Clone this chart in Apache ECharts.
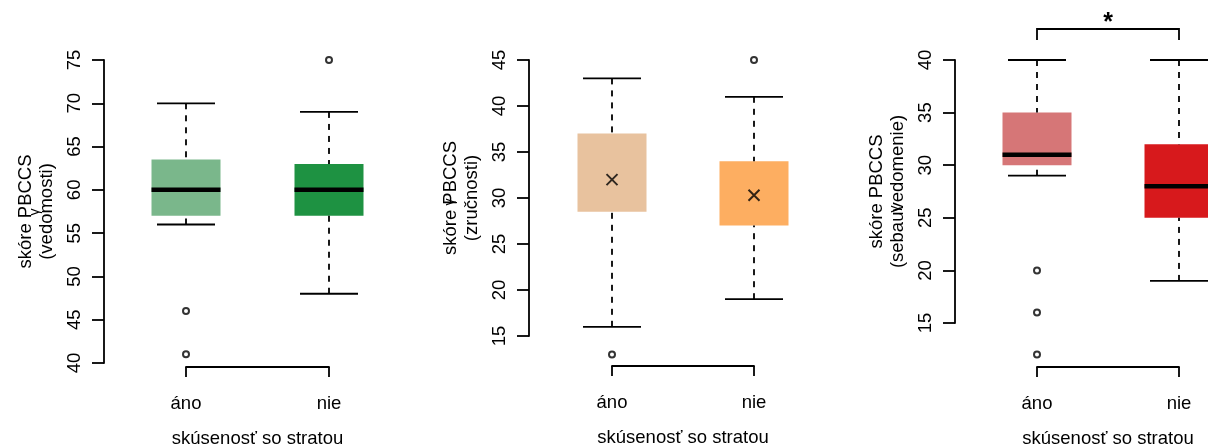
<!DOCTYPE html>
<html>
<head>
<meta charset="utf-8">
<script src="https://cdn.jsdelivr.net/npm/echarts@6/dist/echarts.min.js"></script>
<style>
  html, body { margin: 0; padding: 0; background: #fff; }
  #chart { width: 1208px; height: 445px; }
</style>
</head>
<body>
<div id="chart"></div>
<script>
// ---------- data ----------
const categories = ['áno', 'nie'];
const xTitle = 'skúsenosť so stratou';
const yTitles = ['skóre PBCCS\n(vedomosti)', 'skóre PBCCS\n(zručnosti)', 'skóre PBCCS\n(sebauvedomenie)'];

// box stats: [lower whisker, Q1, median, Q3, upper whisker]
const vedBox = [[56, 57, 60, 63.5, 70], [48, 57, 60, 63, 69]];
const vedOutliers = [['áno', 46], ['áno', 41], ['nie', 75]];

const zruBox = [[16, 28.5, null, 37, 43], [19, 27, null, 34, 41]];
const zruMeans = [32, 30.3];
const zruOutliers = [['áno', 13], ['nie', 45]];

const sebBox = [[29, 30, 31, 35, 40], [19, 25, 28, 32, 40]];
const sebOutliers = [['áno', 20], ['áno', 16], ['áno', 12]];

const yRanges = [[40, 75], [15, 45], [15, 40]];
const significance = '*';

const colors = [['#7ab78b', '#1e9242'], ['#e8c29e', '#fdae61'], ['#d67677', '#d7191c']];

// ---------- chart ----------
const FONT = 'Liberation Sans, Arial, sans-serif';
const FS = 18.5;
const chart = echarts.init(document.getElementById('chart'), null, { renderer: 'canvas' });

const grids = [
  { left: 186, top: 60, width: 143, height: 303 },
  { left: 612, top: 60, width: 142, height: 276 },
  { left: 1037, top: 60, width: 142, height: 263 }
].map(g => Object.assign({ outerBoundsMode: 'none', containLabel: false }, g));

const xOffsets = [4, 30, 44];
const yOffsets = [82, 83, 82];

const lineStyle = { color: '#000', width: 1.8 };

const xAxes = grids.map((g, i) => ({
  type: 'category', gridIndex: i, data: categories, boundaryGap: false,
  position: 'bottom', offset: xOffsets[i],
  axisLine: { show: true, lineStyle },
  axisTick: { show: true, length: 10, inside: false, lineStyle },
  axisLabel: { show: true, interval: 0, fontSize: FS, color: '#000', fontFamily: FONT, margin: 27 },
  splitLine: { show: false },
  name: xTitle, nameLocation: 'middle', nameGap: 62,
  nameTextStyle: { fontSize: FS, color: '#000', fontFamily: FONT }
}));

const yAxes = grids.map((g, i) => ({
  type: 'value', gridIndex: i, min: yRanges[i][0], max: yRanges[i][1], interval: 5,
  position: 'left', offset: yOffsets[i],
  axisLine: { show: true, lineStyle },
  axisTick: { show: true, length: 12, inside: false, lineStyle },
  axisLabel: { show: true, rotate: 90, fontSize: FS, color: '#000', fontFamily: FONT, margin: 20,
               showMinLabel: true, showMaxLabel: true, hideOverlap: false },
  splitLine: { show: false },
  name: yTitles[i], nameLocation: 'middle', nameRotate: 90, nameGap: 47, nameMoveOverlap: false,
  nameTextStyle: { fontSize: FS, color: '#000', fontFamily: FONT, lineHeight: 21, align: 'center' }
}));

function boxData(stats, cols) {
  return stats.map((s, k) => ({
    value: [k, s[0], s[1], s[2] == null ? NaN : s[2], s[3], s[4]],
    itemStyle: { color: cols[k] }
  }));
}

function renderBox(params, api) {
  const c = api.value(0);
  const lo = api.coord([c, api.value(1)]);
  const q1 = api.coord([c, api.value(2)]);
  const q3 = api.coord([c, api.value(4)]);
  const hi = api.coord([c, api.value(5)]);
  const med = api.value(3);
  const cx = lo[0];
  const hw = 34.5, cw = 29;
  const fill = api.visual('color');
  const solid = { stroke: '#000', lineWidth: 1.8 };
  const dashed = { stroke: '#000', lineWidth: 1.8, lineDash: [6, 6] };
  const children = [
    { type: 'rect', shape: { x: cx - hw, y: q3[1], width: 2 * hw, height: q1[1] - q3[1] },
      style: { fill: fill, stroke: null } },
    { type: 'line', shape: { x1: cx, y1: hi[1], x2: cx, y2: q3[1] }, style: dashed },
    { type: 'line', shape: { x1: cx, y1: lo[1], x2: cx, y2: q1[1] }, style: dashed },
    { type: 'line', shape: { x1: cx - cw, y1: hi[1], x2: cx + cw, y2: hi[1] }, style: solid },
    { type: 'line', shape: { x1: cx - cw, y1: lo[1], x2: cx + cw, y2: lo[1] }, style: solid }
  ];
  if (!isNaN(med)) {
    const m = api.coord([c, med]);
    children.push({ type: 'line', shape: { x1: cx - hw, y1: m[1], x2: cx + hw, y2: m[1] },
      style: { stroke: '#000', lineWidth: 4.5 } });
  }
  return { type: 'group', children };
}

function boxSeries(i, stats) {
  return {
    type: 'custom', xAxisIndex: i, yAxisIndex: i, clip: false,
    data: boxData(stats, colors[i]),
    encode: { x: 0, y: [1, 2, 3, 4, 5] },
    renderItem: renderBox, silent: true, z: 2
  };
}

function outlierSeries(i, pts) {
  return {
    type: 'scatter', xAxisIndex: i, yAxisIndex: i, clip: false, silent: true,
    data: pts, symbol: 'emptyCircle', symbolSize: 6,
    itemStyle: { color: '#000', borderWidth: 1.5 }, z: 3
  };
}

const series = [
  boxSeries(0, vedBox), outlierSeries(0, vedOutliers),
  boxSeries(1, zruBox), outlierSeries(1, zruOutliers),
  {
    type: 'scatter', xAxisIndex: 1, yAxisIndex: 1, silent: true, clip: false,
    data: categories.map((c, k) => [c, zruMeans[k]]),
    symbol: 'path://M0,0L10,10M10,0L0,10', symbolSize: 11,
    itemStyle: { color: 'none', borderColor: '#000', borderWidth: 2 }, z: 4
  },
  boxSeries(2, sebBox), outlierSeries(2, sebOutliers)
];

chart.setOption({
  animation: false,
  backgroundColor: '#fff',
  textStyle: { fontFamily: FONT },
  grid: grids,
  xAxis: xAxes,
  yAxis: yAxes,
  series: series
});

// significance bracket and small glyphs, placed via the library's scales
const pA = chart.convertToPixel({ xAxisIndex: 2, yAxisIndex: 2 }, ['áno', 40]);
const pN = chart.convertToPixel({ xAxisIndex: 2, yAxisIndex: 2 }, ['nie', 40]);
const brY = 29, brTick = 11;
const gammaPos = [[35, 212], [450, 202], [895, 209]];
chart.setOption({
  graphic: [
    { type: 'polyline', silent: true,
      shape: { points: [[pA[0], brY + brTick], [pA[0], brY], [pN[0], brY], [pN[0], brY + brTick]] },
      style: { stroke: '#000', lineWidth: 1.8, fill: null } },
    { type: 'text', silent: true, x: (pA[0] + pN[0]) / 2, y: 23,
      style: { text: significance, fontSize: 25, fontWeight: 'bold', fontFamily: FONT, fill: '#000', align: 'center', verticalAlign: 'middle' } }
  ].concat(gammaPos.map(p => ({
    type: 'text', silent: true, x: p[0], y: p[1], rotation: Math.PI / 2,
    style: { text: 'γ', fontSize: 14, fontFamily: FONT, fill: '#000', align: 'center', verticalAlign: 'middle' }
  })))
});
</script>
</body>
</html>
